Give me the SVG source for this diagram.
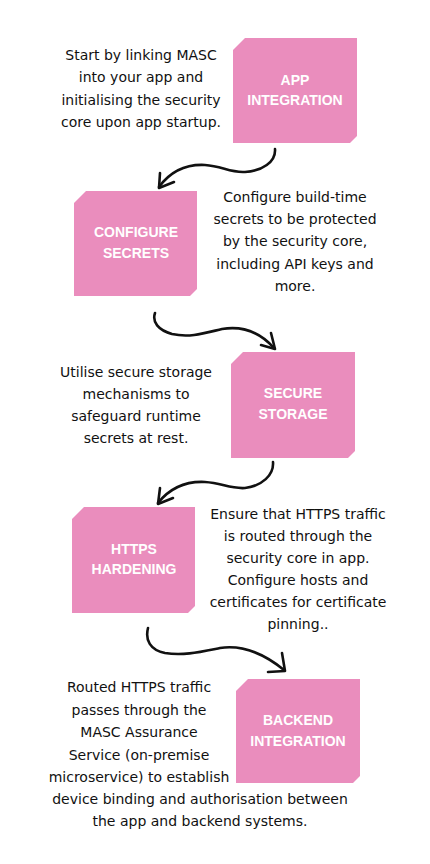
<svg xmlns="http://www.w3.org/2000/svg" width="430" height="864" viewBox="0 0 430 864">
<style>
.box{fill:#EA8DBD}
.t{font-family:"Liberation Sans",Arial,sans-serif;font-weight:bold;font-size:14px;fill:#fff;text-anchor:middle}
.d{font-family:"DejaVu Sans","Liberation Sans",sans-serif;font-size:14px;fill:#111;text-anchor:middle}
.a{fill:none;stroke:#111;stroke-width:2.6;stroke-linecap:round;stroke-linejoin:round}
</style>
<rect width="430" height="864" fill="#fff"/>
<g id="app-integration">
<polygon class="box" points="245,38 357,38 357,136 350,143 233,143 233,50"/>
<text class="t" x="295" y="85">APP</text>
<text class="t" x="295" y="105">INTEGRATION</text>
</g>
<g id="configure-secrets">
<polygon class="box" points="86,191 197,191 197,289 190,296 74,296 74,203"/>
<text class="t" x="136" y="237">CONFIGURE</text>
<text class="t" x="136" y="258">SECRETS</text>
</g>
<g id="secure-storage">
<polygon class="box" points="243,352 355,352 355,451 348,458 231,458 231,364"/>
<text class="t" x="293" y="398">SECURE</text>
<text class="t" x="293" y="419">STORAGE</text>
</g>
<g id="https-hardening">
<polygon class="box" points="84,507 195,507 195,606 188,613 72,613 72,519"/>
<text class="t" x="134" y="554">HTTPS</text>
<text class="t" x="134" y="574">HARDENING</text>
</g>
<g id="backend-integration">
<polygon class="box" points="248,679 360,679 360,776 353,783 236,783 236,691"/>
<text class="t" x="298" y="725">BACKEND</text>
<text class="t" x="298" y="746">INTEGRATION</text>
</g>
<g id="descriptions">
<g id="desc-1">
<text class="d" x="141" y="60">Start by linking MASC</text>
<text class="d" x="141" y="82">into your app and</text>
<text class="d" x="141" y="105">initialising the security</text>
<text class="d" x="141" y="127">core upon app startup.</text>
</g>
<g id="desc-2">
<text class="d" x="295" y="202">Configure build-time</text>
<text class="d" x="295" y="224">secrets to be protected</text>
<text class="d" x="295" y="246">by the security core,</text>
<text class="d" x="295" y="269">including API keys and</text>
<text class="d" x="295" y="291">more.</text>
</g>
<g id="desc-3">
<text class="d" x="136" y="377">Utilise secure storage</text>
<text class="d" x="136" y="399">mechanisms to</text>
<text class="d" x="136" y="421">safeguard runtime</text>
<text class="d" x="136" y="443">secrets at rest.</text>
</g>
<g id="desc-4">
<text class="d" x="298" y="519">Ensure that HTTPS traffic</text>
<text class="d" x="298" y="541">is routed through the</text>
<text class="d" x="298" y="563">security core in app.</text>
<text class="d" x="298" y="585">Configure hosts and</text>
<text class="d" x="298" y="607">certificates for certificate</text>
<text class="d" x="298" y="629">pinning..</text>
</g>
<g id="desc-5">
<text class="d" x="139" y="692">Routed HTTPS traffic</text>
<text class="d" x="139" y="715">passes through the</text>
<text class="d" x="139" y="737">MASC Assurance</text>
<text class="d" x="139" y="760">Service (on-premise</text>
<text class="d" x="139" y="782">microservice) to establish</text>
<text class="d" x="200" y="804">device binding and authorisation between</text>
<text class="d" x="200" y="826">the app and backend systems.</text>
</g>
</g>
<g id="connectors">
<path class="a" d="M275,149 C276,162 262,171 245,172 C230,173 222,166 205,165 C185,164 170,172 159,187"/>
<polyline class="a" points="160,173 159,188 174,182"/>
<path class="a" d="M155,313 C152,322 158,330 172,334 C190,338 205,333 222,329 C240,326 258,330 274,348"/>
<polyline class="a" points="271,333 275,349 261,345"/>
<path class="a" d="M273,462 C274,475 262,486 245,488 C230,489 222,483 205,482 C185,481 170,488 158,503"/>
<polyline class="a" points="160,488 158,504 173,498"/>
<path class="a" d="M148,628 C145,640 150,650 165,653 C183,656 200,652 220,648 C240,645 262,652 284,670"/>
<polyline class="a" points="282,653 285,671 268,672"/>
</g>
</svg>
